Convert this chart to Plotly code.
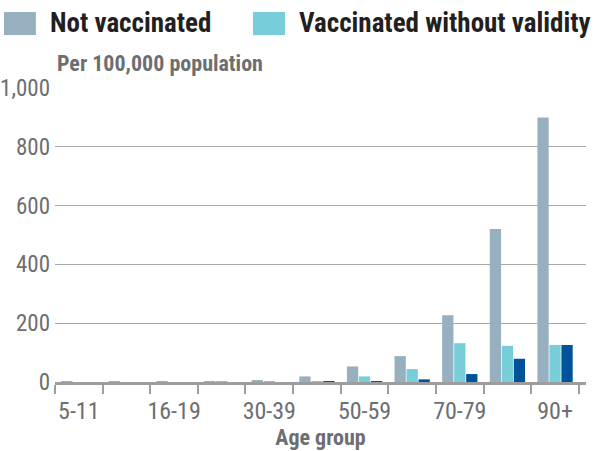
import plotly.graph_objects as go

age_groups = ["5-11", "12-15", "16-19", "20-29", "30-39", "40-49",
              "50-59", "60-69", "70-79", "80-89", "90+"]
shown_labels = ["5-11", "16-19", "30-39", "50-59", "70-79", "90+"]
series_names = ["Not vaccinated", "Vaccinated without validity", "Vaccinated with validity"]
not_vaccinated = [0.5, 0.5, 1, 1.5, 5, 19, 53, 88, 227, 520, 900]
vacc_without_validity = [0, 0, 0, 0.5, 1, 1, 19, 44, 132, 123, 126]
vacc_with_validity = [0, 0, 0, 0, 0, 0.5, 1, 9, 27, 79, 126]
y_ticks = [0, 200, 400, 600, 800, 1000]

colors = ["#96b0bf", "#77ced9", "#00529b"]
FONT = "Roboto Condensed, Liberation Sans Narrow, DejaVu Sans Condensed, sans-serif"

fig = go.Figure()
for name, vals, c in zip(series_names,
                         [not_vaccinated, vacc_without_validity, vacc_with_validity],
                         colors):
    fig.add_trace(go.Bar(x=age_groups, y=vals, name=name, marker_color=c,
                         marker_line_width=0, showlegend=False))

# custom legend (first two entries visible, as in the reference)
leg = [(-0.096, -0.036, -0.0132), (0.3729, 0.4331, 0.4557)]
for (x0, x1, tx), name, c in zip(leg, series_names[:2], colors[:2]):
    fig.add_shape(type="rect", xref="paper", yref="paper", x0=x0, x1=x1,
                  y0=1.180, y1=1.2585, fillcolor=c, line_width=0)
    fig.add_annotation(xref="paper", yref="paper", x=tx, y=1.2194,
                       text="<b>" + name + "</b>", showarrow=False,
                       xanchor="left", yanchor="middle",
                       font=dict(family=FONT, size=27, color="#231f20"))

fig.add_annotation(xref="paper", yref="paper", x=0.0, y=1.082,
                   text="<b>Per 100,000 population</b>", showarrow=False,
                   xanchor="left", yanchor="middle",
                   font=dict(family=FONT, size=22, color="#6d6e71"))

fig.update_layout(
    width=594, height=451,
    margin=dict(l=55, r=8, t=88, b=69),
    plot_bgcolor="white", paper_bgcolor="white",
    barmode="group", bargap=0.244, bargroupgap=0.06,
    font=dict(family=FONT, color="#6d6e71"),
    xaxis=dict(
        type="category", range=[-0.5, 10.65], automargin=False,
        tickvals=age_groups, tickangle=0,
        ticktext=[a if a in shown_labels else "" for a in age_groups],
        tickson="boundaries", ticks="outside", ticklen=9, tickwidth=1.5,
        tickcolor="#9d9d9d", ticklabelstandoff=5,
        showline=True, linecolor="#9d9d9d", linewidth=2.5,
        tickfont=dict(size=24, color="#6d6e71"),
        title=dict(text="<b>Age group</b>", font=dict(size=22, color="#6d6e71"), standoff=4),
        showgrid=False,
    ),
    yaxis=dict(
        range=[0, 1000], tickvals=y_ticks, tickformat=",", automargin=False,
        showgrid=True, gridcolor="#a8a8a8", gridwidth=1.2,
        zeroline=False, ticks="", ticklabelstandoff=4,
        tickfont=dict(size=23, color="#6d6e71"),
    ),
)

fig.write_html("out.html", config={"displayModeBar": False},
               post_script="document.body.style.margin='0';document.body.style.overflow='hidden';")
